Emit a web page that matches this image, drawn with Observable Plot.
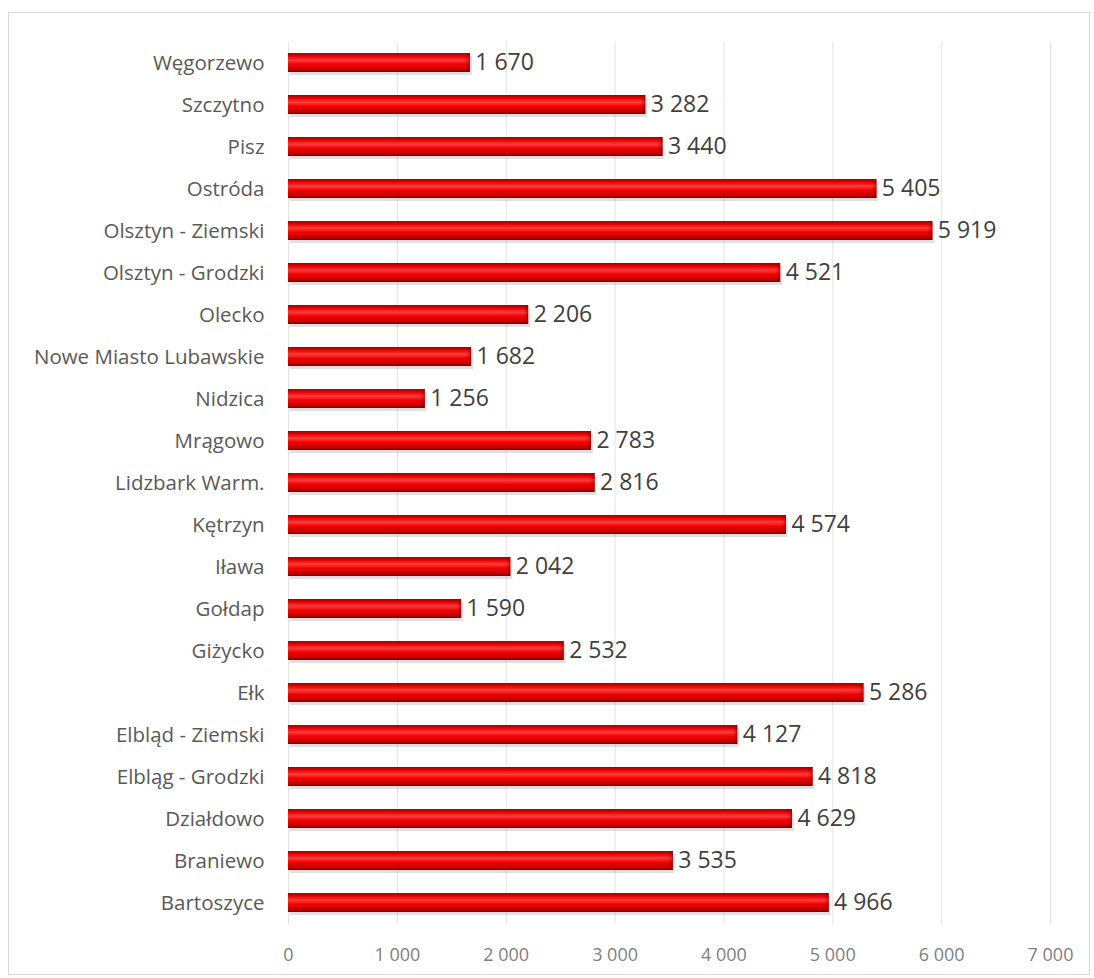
<!DOCTYPE html>
<html>
<head>
<meta charset="utf-8">
<script src="https://cdn.jsdelivr.net/npm/d3@7"></script>
<script src="https://cdn.jsdelivr.net/npm/@observablehq/plot@0.6"></script>
<style>
  html, body { margin: 0; padding: 0; background: #fff; }
  #wrap { position: relative; width: 1094px; height: 978px; }
  #border { position: absolute; left: 8px; top: 12px; width: 1080px; height: 961px; border: 1px solid #d9d9d9; pointer-events: none; }
</style>
</head>
<body>
<div id="wrap"><div id="border"></div></div>
<script>
const districts = ["Węgorzewo","Szczytno","Pisz","Ostróda","Olsztyn - Ziemski","Olsztyn - Grodzki","Olecko","Nowe Miasto Lubawskie","Nidzica","Mrągowo","Lidzbark Warm.","Kętrzyn","Iława","Gołdap","Giżycko","Ełk","Elbląd - Ziemski","Elbląg - Grodzki","Działdowo","Braniewo","Bartoszyce"];
const values = [1670,3282,3440,5405,5919,4521,2206,1682,1256,2783,2816,4574,2042,1590,2532,5286,4127,4818,4629,3535,4966];
const xTicks = [0,1000,2000,3000,4000,5000,6000,7000];

const data = districts.map((d, i) => ({district: d, value: values[i]}));
const loc = d3.formatLocale({decimal: ",", thousands: "\u00a0", grouping: [3], currency: ["", ""]});
const fmt = loc.format(",d");

const chart = Plot.plot({
  width: 1094,
  height: 978,
  marginLeft: 288,
  marginRight: 44,
  marginTop: 42,
  marginBottom: 54,
  style: {fontFamily: "'Open Sans', sans-serif", background: "transparent"},
  x: {domain: [0, 7000], ticks: xTicks, tickFormat: fmt, label: null, tickSize: 0, tickPadding: 24},
  y: {domain: districts, label: null, tickSize: 0, tickPadding: 24, paddingInner: 0.54, paddingOuter: 0.27},
  marks: [
    Plot.gridX(xTicks, {stroke: "#e3e3e3", strokeOpacity: 1}),
    Plot.barX(data, {x: "value", y: "district", fill: "#000", fillOpacity: 0.12, dy: 3, dx: 2}),
    Plot.barX(data, {x: "value", y: "district", fill: "url(#barGrad)"}),
    Plot.barX(data, {x1: d => d.value - 45, x2: "value", y: "district", fill: "url(#capGrad)"}),
    Plot.text(data, {x: "value", y: "district", text: d => fmt(d.value), textAnchor: "start", dx: 5, fontSize: 23, fill: "#404040"})
  ]
});

// gradient definitions for 3D-looking bars
const ns = "http://www.w3.org/2000/svg";
const defs = document.createElementNS(ns, "defs");
defs.innerHTML = `
<linearGradient id="barGrad" x1="0" y1="0" x2="0" y2="1">
  <stop offset="0" stop-color="#a30000"/>
  <stop offset="0.15" stop-color="#e00000"/>
  <stop offset="0.38" stop-color="#ff3a3a"/>
  <stop offset="0.6" stop-color="#f00000"/>
  <stop offset="0.85" stop-color="#c80000"/>
  <stop offset="1" stop-color="#7a0000"/>
</linearGradient>
<linearGradient id="capGrad" x1="0" y1="0" x2="1" y2="0">
  <stop offset="0" stop-color="#7a0000" stop-opacity="0"/>
  <stop offset="0.8" stop-color="#7a0000" stop-opacity="0.35"/>
  <stop offset="1" stop-color="#5a0000" stop-opacity="0.9"/>
</linearGradient>`;
chart.insertBefore(defs, chart.firstChild);

const xl = chart.querySelector("[aria-label='x-axis tick label']");
if (xl) { xl.setAttribute("font-size", "18"); xl.setAttribute("fill", "#7f7f7f"); }
const yl = chart.querySelector("[aria-label='y-axis tick label']");
if (yl) { yl.setAttribute("font-size", "20.5"); yl.setAttribute("fill", "#595959"); }

document.getElementById("wrap").insertBefore(chart, document.getElementById("border"));
</script>
</body>
</html>
